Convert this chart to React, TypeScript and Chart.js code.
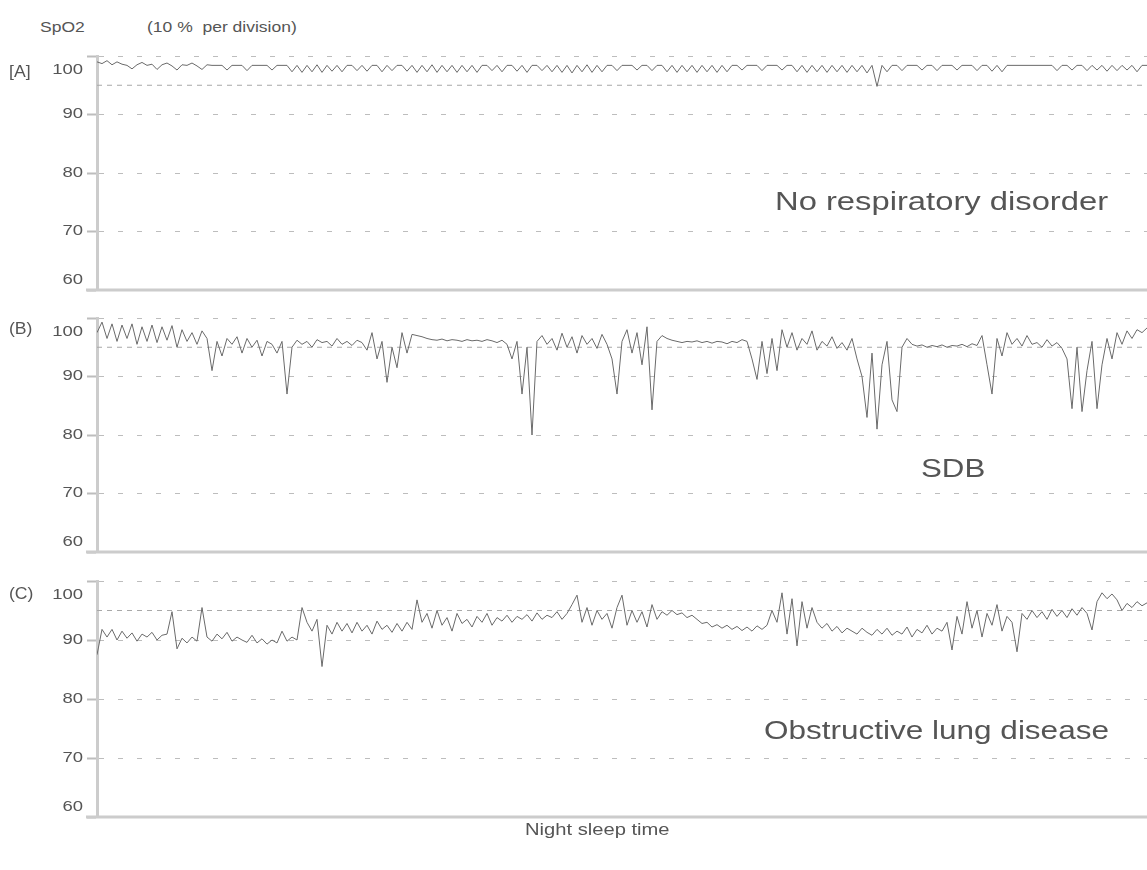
import React, { useEffect, useRef } from "react";
import { Chart, registerables } from "chart.js";

Chart.register(...registerables);

// ---------- data ----------
const yTicks = [60, 70, 80, 90, 100];
const thresholdValue = 95;

const panelTitles = ["[A]", "(B)", "(C)"];
const panelNotes = ["No respiratory disorder", "SDB", "Obstructive lung disease"];
const yAxisTitle = "SpO2";
const yAxisUnit = "(10 %  per division)";
const xAxisTitle = "Night sleep time";

// Panel A: no respiratory disorder
const spo2A = [
  99, 98.7, 99.2, 98.5, 99, 98.6, 98.4, 97.8, 98.5, 98.9,
  98.4, 98.6, 97.7, 98.5, 98.8, 98.3, 97.6, 98.5, 98.4, 98.8,
  98.3, 97.7, 98.5, 98.4, 98.4, 98.4, 97.6, 98.4, 98.4, 98.4,
  97.5, 98.4, 98.4, 98.4, 98.4, 97.6, 98.4, 98.4, 98.4, 97.3,
  98.4, 97.2, 98.4, 97.3, 98.5, 97.2, 98.4, 97.4, 98.4, 97.3,
  98.4, 98.4, 97.5, 98.4, 97.4, 98.4, 98.4, 97.3, 98.4, 97.5,
  98.4, 98.4, 97.4, 98.4, 97.2, 98.4, 97.3, 98.5, 97.2, 98.4,
  97.3, 98.4, 97.2, 98.4, 97.3, 98.4, 97.2, 98.4, 98.4, 97.5,
  98.4, 97.3, 98.4, 98.4, 97.4, 98.4, 97.2, 98.4, 98.4, 97.5,
  98.4, 97.3, 98.4, 97.2, 98.4, 97.1, 98.4, 97.3, 98.5, 97.2,
  98.4, 97.3, 98.4, 98.4, 97.5, 98.4, 98.4, 98.4, 97.6, 98.4,
  98.4, 97.5, 98.4, 98.4, 97.3, 98.4, 97.2, 98.4, 97.3, 98.4,
  97.2, 98.4, 97.3, 98.4, 97.2, 98.4, 97.3, 98.4, 98.4, 97.6,
  98.4, 98.4, 98.4, 97.5, 98.4, 98.4, 98.4, 97.6, 98.4, 98.4,
  97.3, 98.4, 97.2, 98.4, 97.3, 98.4, 97.2, 98.4, 97.3, 98.4,
  97.2, 98.4, 97.3, 98.4, 97.1, 98.4, 94.8, 98.4, 97.3, 98.4,
  98.4, 97.5, 98.4, 98.4, 98.4, 97.6, 98.4, 98.4, 97.5, 98.4,
  98.4, 98.4, 97.6, 98.4, 98.4, 98.4, 97.5, 98.4, 98.4, 97.4,
  98.4, 97.3, 98.4, 98.4, 98.4, 98.4, 98.4, 98.4, 98.4, 98.4,
  98.4, 98.4, 97.5, 98.4, 98.4, 97.6, 98.4, 98.4, 97.5, 98.4,
  97.6, 98.4, 97.4, 98.4, 97.5, 98.4, 97.6, 98.4, 97.3, 98.4, 98.4,
];

// Panel B: SDB
const spo2B = [
  97.5, 99.3, 96.5, 99, 96, 98.8, 96.5, 99, 95.5, 98.5,
  96, 98.8, 95.8, 98.5, 96.2, 98.7, 95, 98, 96, 97.5,
  95.5, 97.8, 96.5, 91, 96, 93.5, 96.5, 95.5, 96.8, 94,
  96.5, 95, 96.2, 93.5, 96, 95.5, 94, 96, 87, 95,
  96.2, 95.5, 96, 95, 96.3, 95.8, 96, 95.2, 96.5, 95.5,
  96, 95.3, 96.2, 95.8, 94.5, 97.5, 93, 96, 89, 95,
  91.5, 97.5, 94, 97.2, 97, 96.8, 96.5, 96.3, 96.2, 96.4,
  96.1, 96.3, 96.2, 96, 96.3, 96.1, 96.2, 96, 96.3, 96.1,
  95.8, 96.2, 95.5, 93, 96, 87, 95, 80, 96, 97,
  95.5, 96.5, 94.5, 97.4, 95, 96.8, 94, 97, 95.5, 96.5,
  94.8, 97.2, 95.5, 93, 87, 96, 98, 94, 97.5, 92,
  98.5, 84.3, 96, 97, 96.5, 96.2, 96, 95.8, 96, 95.9,
  96.1, 95.8, 96, 95.7, 96, 95.9, 95.6, 96, 95.8, 96.3,
  96, 93, 89.5, 96, 90.5, 96.5, 91, 98, 95, 97.5,
  94.5, 96.5, 95.5, 97.8, 94.5, 96, 95.2, 96.8, 94.8, 95.8,
  94.5, 96.5, 93, 90, 83, 94, 81, 92, 96, 86,
  84, 95, 96.5, 95.5, 95.2, 95.4, 95, 95.3, 95.1, 95.4,
  95, 95.3, 95.2, 95.5, 95.1, 95.6, 95.3, 97, 92, 87,
  96.5, 93.5, 97.5, 95.5, 96.5, 95.2, 97, 95.5, 95.8, 95,
  96.3, 95.2, 95.8, 94.8, 93, 84.5, 95, 84, 91, 96,
  84.5, 92, 96.5, 93, 97.5, 95.5, 97.8, 96.5, 98, 97.5, 98.3,
];

// Panel C: obstructive lung disease
const spo2C = [
  87.5, 91.8, 90.5, 91.8, 90, 91.5, 90.3, 91.2, 89.8, 91,
  90.5, 91.3, 90, 90.8, 91, 94.8, 88.5, 90.3, 89.5, 90.5,
  89.8, 95.5, 90.5, 89.8, 91, 90.2, 91.3, 89.8, 90.5, 90,
  89.6, 90.8, 89.5, 90.2, 89.3, 90, 89.5, 91.5, 89.8, 90.5,
  90, 95.5, 93, 91.5, 93.5, 85.5, 92.5, 91, 93, 91.5,
  92.8, 91.2, 93, 91.5, 92.5, 91, 93.2, 91.8, 92.5, 91.3,
  92.8, 91.5, 93, 91.8, 96.8, 93, 94.5, 92, 95, 92.5,
  93.8, 91.5, 94.5, 92.8, 93.5, 92.2, 94, 93, 94.5, 92.5,
  93.8, 93.2, 94.2, 93, 94, 93.5, 94.3, 93.2, 94.6, 93.5,
  94.2, 93.8, 94.8, 93.5, 94.5, 96, 97.6, 93, 95.5, 92.5,
  95, 93.5, 94.5, 92, 95.5, 97.6, 92.5, 95, 93, 94.8,
  92.2, 96, 93.5, 94.8, 94.2, 95, 94.3, 94.6, 93.8, 94.2,
  93.5, 92.8, 93, 92.2, 92.6, 92, 92.5, 91.8, 92.3, 91.6,
  92.2, 91.5, 92.4, 91.8, 92.5, 95, 93, 98, 91, 97,
  89, 96.5, 92, 95.5, 93, 92, 92.8, 91.5, 92.3, 91.2,
  92, 91.5, 91, 92, 91.3, 90.8, 91.8, 91, 92, 90.8,
  91.5, 91, 92.2, 90.5, 91.8, 91.2, 92.5, 91, 92, 91.5,
  93, 88.3, 94, 91, 96.5, 92, 95, 90.5, 94.5, 92.5,
  96, 91.5, 94, 93, 88, 94.5, 93.5, 95, 93.8, 94.8,
  93.5, 95.2, 94, 95, 93.8, 95.3, 94.2, 95.5, 94.5, 91.7,
  96.5, 98, 97, 97.8, 96.8, 95, 96.2, 95.5, 96.5, 95.8, 96.3,
];

const panelSeries = [spo2A, spo2B, spo2C];

// ---------- layout / style ----------
const PAGE_W = 1147;
const PAGE_H = 870;
const AXIS_X = 97;
const PANEL_AREAS = [
  { top: 56, bottom: 290 },
  { top: 318, bottom: 552 },
  { top: 581, bottom: 817 },
];
const PAD_TOP = 20;
const PAD_BOTTOM = 10;
const FONT = '"Liberation Sans", Arial, Helvetica, sans-serif';
const TEXT_COLOR = "#555";
const GRID_COLOR = "#bdbdbd";
const AXIS_COLOR = "#cccccc";
const TRACE_COLOR = "#6a6a6a";

function Panel({ values, area }: { values: number[]; area: { top: number; bottom: number } }) {
  const ref = useRef<HTMLCanvasElement | null>(null);
  const h = area.bottom - area.top + PAD_TOP + PAD_BOTTOM;

  useEffect(() => {
    const canvas = ref.current;
    if (!canvas) return;
    const n = values.length;
    const yMin = yTicks[0];
    const yMax = yTicks[yTicks.length - 1];

    const decor = {
      id: "decor",
      afterDraw(chart: any) {
        const { ctx, chartArea } = chart;
        const ys = chart.scales.y;
        ctx.save();
        // bottom axis line
        ctx.strokeStyle = AXIS_COLOR;
        ctx.lineWidth = 3;
        ctx.beginPath();
        ctx.moveTo(86, chartArea.bottom);
        ctx.lineTo(PAGE_W, chartArea.bottom);
        ctx.stroke();
        // y tick labels
        ctx.fillStyle = TEXT_COLOR;
        ctx.font = "14px " + FONT;
        ctx.textAlign = "right";
        ctx.textBaseline = "middle";
        for (const v of yTicks) {
          let y = ys.getPixelForValue(v);
          if (v === yMax) y += 14;
          if (v === yMin) y -= 10;
          ctx.save();
          ctx.translate(83, y);
          ctx.scale(1.32, 1);
          ctx.fillText(String(v), 0, 0);
          ctx.restore();
        }
        ctx.restore();
      },
    };

    const chart = new Chart(canvas, {
      type: "line",
      data: {
        datasets: [
          {
            data: values.map((v, i) => ({ x: i, y: v })),
            borderColor: TRACE_COLOR,
            borderWidth: 1,
            pointRadius: 0,
            tension: 0,
            fill: false,
          },
          {
            data: [
              { x: 0, y: thresholdValue },
              { x: n - 1, y: thresholdValue },
            ],
            borderColor: "#a8a8a8",
            borderWidth: 1,
            borderDash: [5, 5],
            pointRadius: 0,
            fill: false,
          },
        ],
      },
      options: {
        animation: false,
        responsive: false,
        maintainAspectRatio: false,
        events: [],
        layout: { padding: { top: PAD_TOP, bottom: PAD_BOTTOM, left: 0, right: 0 } },
        plugins: { legend: { display: false }, tooltip: { enabled: false }, title: { display: false } },
        scales: {
          x: { type: "linear", display: false, min: 0, max: n - 1 },
          y: {
            type: "linear",
            min: yMin,
            max: yMax,
            afterBuildTicks: (s: any) => {
              s.ticks = yTicks.map((v) => ({ value: v }));
            },
            afterFit: (s: any) => {
              s.width = AXIS_X;
            },
            ticks: { display: false },
            grid: {
              color: (c: any) => (c.tick && c.tick.value === yMin ? "rgba(0,0,0,0)" : GRID_COLOR),
              lineWidth: 1,
              drawTicks: true,
              tickLength: 10,
              tickColor: GRID_COLOR,
              tickWidth: 2,
              tickBorderDash: [],
            },
            border: { display: true, color: AXIS_COLOR, width: 3, dash: [5, 14] },
          },
        },
      },
      plugins: [decor],
    } as any);

    return () => chart.destroy();
  }, [values]);

  return (
    <canvas
      ref={ref}
      width={PAGE_W}
      height={h}
      style={{ position: "absolute", left: 0, top: area.top - PAD_TOP, width: PAGE_W, height: h }}
    />
  );
}

function Label({
  text,
  left,
  top,
  size,
  sx,
}: {
  text: string;
  left: number;
  top: number;
  size: number;
  sx: number;
}) {
  return (
    <div
      style={{
        position: "absolute",
        left,
        top,
        fontSize: size,
        lineHeight: 1,
        whiteSpace: "pre",
        color: TEXT_COLOR,
        fontFamily: FONT,
        transform: `scaleX(${sx})`,
        transformOrigin: "left top",
      }}
    >
      {text}
    </div>
  );
}

export default function App() {
  const titleTops = [64, 321, 586];
  const notePos = [
    { left: 775, top: 189, sx: 1.31 },
    { left: 921, top: 456, sx: 1.25 },
    { left: 764, top: 718, sx: 1.26 },
  ];
  return (
    <div
      style={{
        position: "absolute",
        left: 0,
        top: 0,
        width: PAGE_W,
        height: PAGE_H,
        background: "#fff",
        overflow: "hidden",
      }}
    >
      {panelSeries.map((vals, k) => (
        <Panel key={k} values={vals} area={PANEL_AREAS[k]} />
      ))}
      <Label text={yAxisTitle} left={40} top={20} size={14} sx={1.25} />
      <Label text={yAxisUnit} left={147} top={20} size={14} sx={1.25} />
      {panelTitles.map((t, k) => (
        <Label key={t} text={t} left={9} top={titleTops[k]} size={16} sx={1.1} />
      ))}
      {panelNotes.map((t, k) => (
        <Label key={t} text={t} left={notePos[k].left} top={notePos[k].top} size={25} sx={notePos[k].sx} />
      ))}
      <Label text={xAxisTitle} left={525} top={822} size={16} sx={1.26} />
    </div>
  );
}
